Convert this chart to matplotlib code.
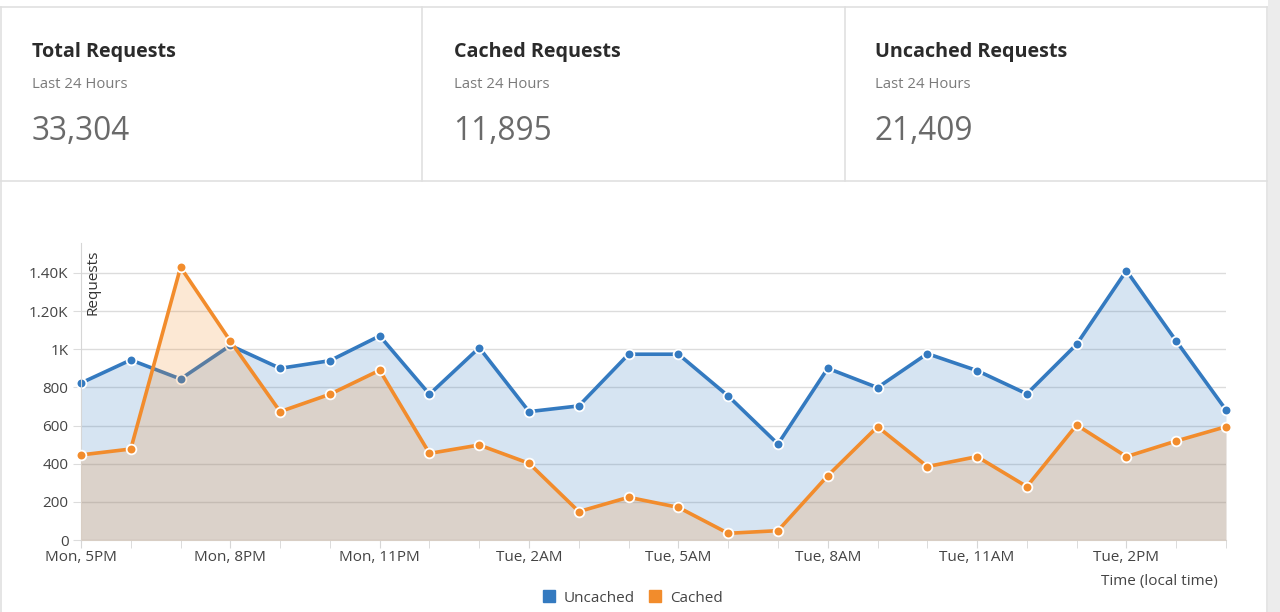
import numpy as np
from matplotlib import pyplot as plt
from matplotlib.lines import Line2D
from matplotlib.ticker import FuncFormatter

plt.rcParams['font.family'] = ['Open Sans', 'DejaVu Sans']

# Summary cards
card_titles = ["Total Requests", "Cached Requests", "Uncached Requests"]
card_subtitle = "Last 24 Hours"
card_values = ["33,304", "11,895", "21,409"]

# Hourly series, Mon 5PM .. Tue 4PM
hour_labels = ["Mon, 5PM", "Mon, 8PM", "Mon, 11PM", "Tue, 2AM",
               "Tue, 5AM", "Tue, 8AM", "Tue, 11AM", "Tue, 2PM"]
uncached = [823, 944, 844, 1020, 900, 940, 1070, 764, 1008, 673, 703, 974,
            974, 755, 503, 900, 799, 977, 888, 766, 1026, 1412, 1043, 682]
cached = [446, 477, 1430, 1043, 673, 764, 890, 454, 498, 402, 149, 224,
          171, 35, 49, 337, 594, 385, 437, 280, 603, 437, 519, 594]
y_ticks = [0, 200, 400, 600, 800, 1000, 1200, 1400]

BLUE = '#347ac0'
ORANGE = '#f28c2c'
W, H = 1280, 612


def px(x, y):
    """pixel coords (from top left) -> figure fraction"""
    return x / W, 1 - y / H


fig = plt.figure(figsize=(W / 100, H / 100), dpi=100)
fig.patch.set_facecolor('white')

# page frame / card borders
border = '#e0e0e0'
fig.add_artist(Line2D([0, 1267 / W], [1 - 7 / H] * 2, color=border, lw=1.2))
fig.add_artist(Line2D([0, 1267 / W], [1 - 181 / H] * 2, color=border, lw=1.2))
fig.add_artist(Line2D([1 / W] * 2, [0, 1 - 7 / H], color=border, lw=1.2))
for xv in [422, 845]:
    fig.add_artist(Line2D([xv / W] * 2, [1 - 181 / H, 1 - 7 / H], color=border, lw=1.2))
fig.add_artist(Line2D([1267 / W] * 2, [0, 1 - 7 / H], color=border, lw=1.2))
fig.add_artist(plt.Rectangle((1268 / W, 0), 12 / W, 1, transform=fig.transFigure,
                             color='#ececec', lw=0))

for i, (title, value) in enumerate(zip(card_titles, card_values)):
    x0 = 32 + i * 421.5
    fig.text(*px(x0, 52), title, fontsize=14.2, fontweight='bold', color='#2b2b2b', va='center')
    fig.text(*px(x0, 84), card_subtitle, fontsize=10.7, color='#7a7a7a', va='center')
    fig.text(*px(x0, 131), value, fontsize=22.8, color='#6a6a6a', va='center')

# chart
l, b = px(81, 540)
r, t = px(1226, 243)
ax = fig.add_axes([l, b, r - l, t - b])
x = np.arange(len(uncached))

ax.fill_between(x, 0, uncached, color=BLUE, alpha=0.2, lw=0, zorder=1)
ax.plot(x, uncached, color=BLUE, lw=2.6, marker='o', ms=7, mfc=BLUE,
        mec='white', mew=1.3, zorder=2, clip_on=False)
ax.fill_between(x, 0, cached, color=ORANGE, alpha=0.2, lw=0, zorder=3)
ax.plot(x, cached, color=ORANGE, lw=2.6, marker='o', ms=7, mfc=ORANGE,
        mec='white', mew=1.3, zorder=4, clip_on=False)

ax.set_xlim(0, len(uncached) - 1)
ax.set_ylim(0, 1557)
ax.set_xticks(x[::3])
ax.set_xticklabels(hour_labels)
ax.set_xticks(x, minor=True)
ax.set_yticks(y_ticks)


def kfmt(v, pos):
    if v < 1000:
        return f"{int(v)}"
    if v == 1000:
        return "1K"
    return f"{v / 1000:.2f}K"


ax.yaxis.set_major_formatter(FuncFormatter(kfmt))
ax.grid(axis='y', color='#dcdcdc', lw=1, zorder=0)
for s in ['top', 'right']:
    ax.spines[s].set_visible(False)
ax.spines['left'].set_color('#d6d6d6')
ax.spines['bottom'].set_color('#d6d6d6')
ax.tick_params(axis='x', which='both', length=6, color='#d6d6d6', labelsize=11,
               labelcolor='#444444', pad=1)
ax.tick_params(axis='y', length=6, color='#dcdcdc', labelsize=11,
               labelcolor='#444444', pad=3)
ax.set_axisbelow(True)

ax.text(0.004, 0.978, "Requests", transform=ax.transAxes, rotation=90,
        ha='left', va='top', fontsize=11, color='#333333')
fig.text(*px(1218, 582), "Time (local time)", ha='right', va='center',
         fontsize=11, color='#444444')

handles = [Line2D([], [], ls='none', marker='s', ms=9, color=BLUE),
           Line2D([], [], ls='none', marker='s', ms=9, color=ORANGE)]
fig.legend(handles, ["Uncached", "Cached"], loc='center', ncol=2,
           bbox_to_anchor=px(632, 598), frameon=False, fontsize=11,
           handletextpad=0.5, columnspacing=0.8, handlelength=1.0,
           labelcolor='#444444')

fig.savefig('out.png', dpi=100)
